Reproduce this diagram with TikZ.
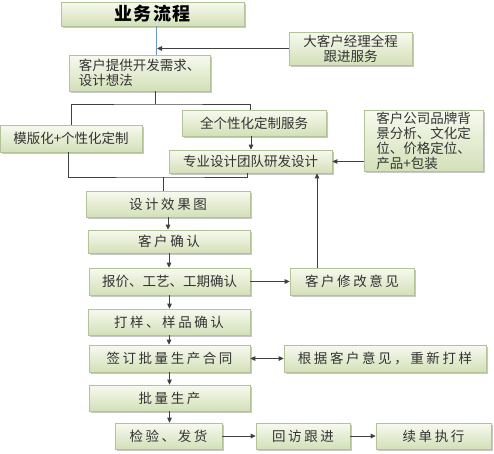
\documentclass[tikz,border=0pt]{standalone}
\usepackage{fontspec}
\setmainfont{Noto Sans CJK SC}
\newfontfamily\cjkwide[LetterSpace=19]{Noto Sans CJK SC}
\newfontfamily\titlefont[LetterSpace=6]{Noto Sans CJK SC}
\usetikzlibrary{arrows.meta,shadows}
\definecolor{boxtop}{HTML}{F7FAEF}
\definecolor{boxbot}{HTML}{D3E0B8}
\definecolor{boxline}{HTML}{B3C398}
\definecolor{txt}{HTML}{333333}
\definecolor{conn}{HTML}{404040}
\definecolor{blueline}{HTML}{6F95C4}
\begin{document}
\begin{tikzpicture}[x=1pt,y=-1pt,
  box/.style={draw=boxline, line width=0.6pt, top color=boxtop, bottom color=boxbot,
    drop shadow={shadow xshift=1.6pt, shadow yshift=-1.6pt, fill=black!40, opacity=0.55},
    inner sep=0pt, text=txt, align=center,
    font=\fontsize{13.5}{15}\selectfont},
  wbox/.style={box, font=\fontsize{13.5}{15}\selectfont\cjkwide},
  tbox/.style={box, text=black, font=\fontsize{18}{20}\selectfont\titlefont\bfseries},
  line/.style={draw=conn, line width=0.9pt},
  arr/.style={line, -{Triangle[length=5pt,width=4.5pt]}},
  arrtwo/.style={line, {Triangle[length=5pt,width=4.5pt]}-{Triangle[length=5pt,width=4.5pt]}},
  bline/.style={draw=blueline, line width=0.8pt}]
\useasboundingbox (0,0) rectangle (494,453);

% boxes
\node[tbox, minimum width=183pt, minimum height=24pt] (title) at (152.5,14) {业务流程};
\node[box, minimum width=123pt, minimum height=33pt] (mgr) at (350.5,48.5) {大客户经理全程\\跟进服务};
\node[box, minimum width=141pt, minimum height=36pt, align=left] (req) at (139.5,73) {客户提供开发需求、\\设计想法};
\node[box, minimum width=142pt, minimum height=27pt] (tmpl) at (71,138.5) {模版化+个性化定制};
\node[box, minimum width=144pt, minimum height=26pt] (full) at (254,123) {全个性化定制服务};
\node[box, minimum width=163pt, minimum height=23pt] (pro) at (250.5,161.5) {专业设计团队研发设计};
\node[box, minimum width=119pt, minimum height=61pt, align=left] (brand) at (423.5,140.5) {客户公司品牌背\\景分析、文化定\\位、价格定位、\\产品+包装};
\node[wbox, minimum width=164pt, minimum height=26pt] (eff) at (168,204) {设计效果图};
\node[wbox, minimum width=162pt, minimum height=23pt] (conf) at (169,241.5) {客户确认};
\node[box, minimum width=161pt, minimum height=27pt] (quote) at (169.5,281.5) {报价、工艺、工期确认};
\node[wbox, minimum width=124pt, minimum height=27pt] (mod) at (352,281.5) {客户修改意见};
\node[wbox, minimum width=162pt, minimum height=26pt] (sample) at (169,322) {打样、样品确认};
\node[wbox, minimum width=161pt, minimum height=27pt] (sign) at (169.5,358.5) {签订批量生产合同};
\node[wbox, minimum width=202pt, minimum height=27pt] (redo) at (385,358.5) {根据客户意见，重新打样};
\node[wbox, minimum width=161pt, minimum height=26pt] (mass) at (169.5,398) {批量生产};
\node[wbox, minimum width=107pt, minimum height=26pt] (insp) at (168.5,436) {检验、发货};
\node[wbox, minimum width=94pt, minimum height=26pt] (visit) at (303,436) {回访跟进};
\node[wbox, minimum width=115pt, minimum height=26pt] (renew) at (433.5,436) {续单执行};

% connectors
\draw[bline] ([xshift=3.5pt]title.south) -- ([xshift=3.5pt]title.south |- req.north);
\coordinate (spine) at ([xshift=4.5pt]title.south |- mgr.west);
\draw[arr] (mgr.west) -- (spine);

\coordinate (split) at (155.5,104);
\draw[line] ([xshift=16pt]req.south) -- (split);
\draw[line] (tmpl.north) |- (split) -| ([xshift=-4pt]full.north);
\draw[arr] ([xshift=-3pt]full.south) -- ([xshift=-3pt]full.south |- pro.north);

\coordinate (merge) at (163,177);
\draw[line] ([xshift=-3pt]tmpl.south) |- (merge) -| ([xshift=-3.5pt]pro.south);
\draw[line] (merge) -- (merge |- eff.north);

\draw[arr] (eff.south) -- (eff.south |- conf.north);
\draw[arr] (conf.south) -- (conf.south |- quote.north);
\draw[arr] (quote.south) -- (quote.south |- sample.north);
\draw[arr] (sample.south) -- (sample.south |- sign.north);
\draw[arr] (sign.south) -- (sign.south |- mass.north);
\draw[arr] (mass.south) -- (mass.south |- insp.north);

\draw[arr] (quote.east) -- (mod.west);
\draw[arr] ([xshift=-35pt]mod.north) -- ([xshift=-35pt]mod.north |- pro.south);
\draw[arr] (brand.west |- pro.east) -- (pro.east);
\draw[arrtwo] (sign.east) -- (redo.west);
\draw[arr] (insp.east) -- (visit.west);
\draw[arr] (visit.east) -- (renew.west);
\end{tikzpicture}
\end{document}
